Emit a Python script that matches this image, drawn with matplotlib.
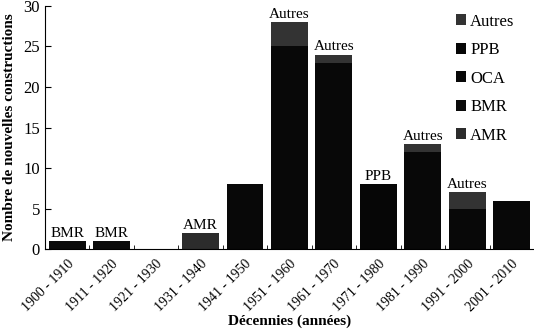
import matplotlib
matplotlib.use("Agg")
import matplotlib.pyplot as plt
import numpy as np

plt.rcParams["font.family"] = ["Liberation Serif", "DejaVu Serif"]

# Decades and number of new constructions per builder
decades = ["1900 - 1910", "1911 - 1920", "1921 - 1930", "1931 - 1940", "1941 - 1950",
           "1951 - 1960", "1961 - 1970", "1971 - 1980", "1981 - 1990", "1991 - 2000",
           "2001 - 2010"]
amr = [0, 0, 0, 2, 0, 0, 0, 0, 0, 0, 0]
bmr = [1, 1, 0, 0, 0, 0, 0, 0, 0, 0, 0]
oca = [0, 0, 0, 0, 8, 25, 23, 0, 12, 5, 6]
ppb = [0, 0, 0, 0, 0, 0, 0, 8, 0, 0, 0]
autres = [0, 0, 0, 0, 0, 3, 1, 0, 1, 2, 0]
top_labels = ["BMR", "BMR", "", "AMR", "", "Autres", "Autres", "PPB", "Autres", "Autres", ""]

series = [("AMR", amr, "#2c2c2c"), ("BMR", bmr, "#0b0b0b"), ("OCA", oca, "#080808"),
          ("PPB", ppb, "#060606"), ("Autres", autres, "#333333")]

fig = plt.figure(figsize=(5.34, 3.30), dpi=100)
ax = fig.add_axes([0.084, 0.245, 0.916, 0.737])

x = np.arange(len(decades))
bottom = np.zeros(len(decades))
handles = {}
for name, vals, col in series:
    h = ax.bar(x, vals, width=0.83, bottom=bottom, color=col, label=name)
    handles[name] = h
    bottom += np.array(vals)

for i, lab in enumerate(top_labels):
    if lab:
        ax.text(x[i], bottom[i] + 0.15, lab, ha="center", va="bottom", fontsize=11)

ax.set_xlim(-0.5, len(decades) - 0.5)
ax.set_ylim(0, 30)
ax.set_yticks([0, 5, 10, 15, 20, 25, 30])
ax.tick_params(axis="y", direction="in", labelsize=12, length=4)
ax.set_xticks(x)
ax.set_xticklabels(decades, rotation=45, ha="right", rotation_mode="anchor", fontsize=10)
ax.tick_params(axis="x", length=0, pad=6)
ax.set_xticks(x[:-1] + 0.5, minor=True)
ax.tick_params(axis="x", which="minor", direction="in", length=3)
ax.spines["top"].set_visible(False)
ax.spines["right"].set_visible(False)

ax.set_ylabel("Nombre de nouvelles constructions", fontweight="bold", fontsize=11, labelpad=5)
ax.set_xlabel("Décennies (années)", fontweight="bold", fontsize=11, labelpad=0)

order = ["Autres", "PPB", "OCA", "BMR", "AMR"]
ax.legend([handles[n] for n in order], order, loc="upper left", bbox_to_anchor=(0.81, 1.03),
          frameon=False, fontsize=12, handlelength=0.6, handleheight=0.6,
          handletextpad=0.25, labelspacing=0.75)

fig.savefig("out.png", dpi=100)
